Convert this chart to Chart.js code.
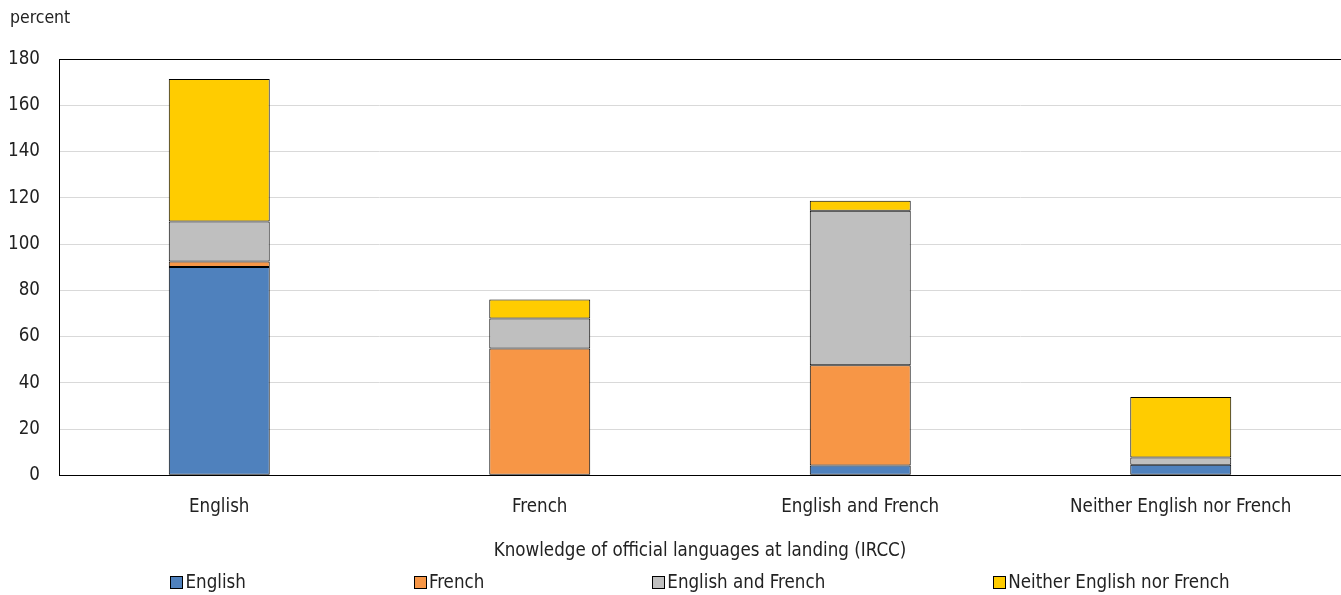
<!DOCTYPE html>
<html>
<head>
<meta charset="utf-8">
<script src="https://cdn.jsdelivr.net/npm/chart.js@4/dist/chart.umd.min.js"></script>
<style>
  html, body { margin: 0; padding: 0; background: #fff; }
  #wrap { width: 1341px; height: 595px; position: relative; overflow: hidden; }
</style>
</head>
<body>
<div id="wrap"><canvas id="langChart"></canvas></div>
<script>
// Categories and stacked series (percent)
const categories = ['English', 'French', 'English and French', 'Neither English nor French'];
const seriesEnglish = [90.1, null, 4.3, 4.6];
const seriesFrench = [2.4, 54.8, 43.3, null];
const seriesBoth = [17.3, 13.0, 66.8, 3.1];
const seriesNeither = [61.6, 8.2, 4.3, 26.2];
const yTicks = [0, 20, 40, 60, 80, 100, 120, 140, 160, 180];

const FONT = "'Liberation Sans Narrow', 'DejaVu Sans Condensed', 'Arial Narrow', sans-serif";
const FONT_SIZE = 18.6;
const TEXT = '#222';

Chart.defaults.font.family = FONT;
Chart.defaults.font.size = FONT_SIZE;
Chart.defaults.color = TEXT;

// Black frame around the plot area (right edge runs past the canvas)
const frame = {
    id: 'frame',
    afterDatasetsDraw(chart) {
        const { ctx, chartArea: a } = chart;
        ctx.save();
        ctx.strokeStyle = '#000';
        ctx.lineWidth = 1;
        ctx.strokeRect(Math.round(a.left) + 0.5, Math.round(a.top) + 0.5,
            Math.round(a.right - a.left), Math.round(a.bottom - a.top));
        ctx.restore();
    }
};

// Single-row legend along the bottom, wide gaps between entries
const rowLegend = {
    id: 'rowLegend',
    afterDraw(chart) {
        const { ctx, chartArea: a } = chart;
        const sets = chart.data.datasets;
        const box = 12, gap = 3, spacing = 168;
        const y = chart.height - 13;
        ctx.save();
        ctx.font = FONT_SIZE + 'px ' + FONT;
        ctx.textBaseline = 'middle';
        const widths = sets.map(s => box + gap + ctx.measureText(s.label).width);
        const total = widths.reduce((p, w) => p + w, 0) + spacing * (sets.length - 1);
        let x = (a.left + a.right) / 2 - total / 2;
        sets.forEach((s, i) => {
            const bx = Math.round(x) + 0.5, by = Math.round(y - box / 2) + 0.5;
            ctx.fillStyle = s.backgroundColor;
            ctx.fillRect(bx, by, box, box);
            ctx.strokeStyle = '#000';
            ctx.lineWidth = 1;
            ctx.strokeRect(bx, by, box, box);
            ctx.fillStyle = TEXT;
            ctx.fillText(s.label, x + box + gap, y + 1);
            x += widths[i] + spacing;
        });
        ctx.restore();
    }
};

function makeSet(label, data, color) {
    return {
        label: label,
        data: data,
        backgroundColor: color,
        borderColor: '#000',
        borderWidth: 1,
        borderSkipped: false,
        categoryPercentage: 1.0,
        barPercentage: 0.315
    };
}

const ctx = document.getElementById('langChart').getContext('2d');
new Chart(ctx, {
    type: 'bar',
    data: {
        labels: categories,
        datasets: [
            makeSet('English', seriesEnglish, '#4f81bd'),
            makeSet('French', seriesFrench, '#f79646'),
            makeSet('English and French', seriesBoth, '#bfbfbf'),
            makeSet('Neither English nor French', seriesNeither, '#ffcc00')
        ]
    },
    options: {
        responsive: true,
        maintainAspectRatio: false,
        animation: false,
        layout: { padding: { left: 10, right: -4, top: 0, bottom: 30 } },
        plugins: {
            title: {
                display: true,
                text: 'percent',
                align: 'start',
                font: { size: 17.5, weight: 'normal' },
                padding: { top: 8, bottom: 30 }
            },
            legend: { display: false },
            tooltip: { enabled: false }
        },
        scales: {
            x: {
                stacked: true,
                grid: { display: false, drawTicks: false },
                border: { display: false },
                ticks: { padding: 21 },
                title: {
                    display: true,
                    text: 'Knowledge of official languages at landing (IRCC)',
                    padding: { top: 0, bottom: 3 }
                }
            },
            y: {
                stacked: true,
                min: yTicks[0],
                max: yTicks[yTicks.length - 1],
                afterBuildTicks(axis) {
                    axis.ticks = yTicks.map(v => ({ value: v }));
                },
                afterFit(axis) {
                    axis.width = 49;
                },
                grid: { color: '#d9d9d9', drawTicks: false },
                border: { display: false },
                ticks: { padding: 19, autoSkip: false }
            }
        }
    },
    plugins: [frame, rowLegend]
});
</script>
</body>
</html>
